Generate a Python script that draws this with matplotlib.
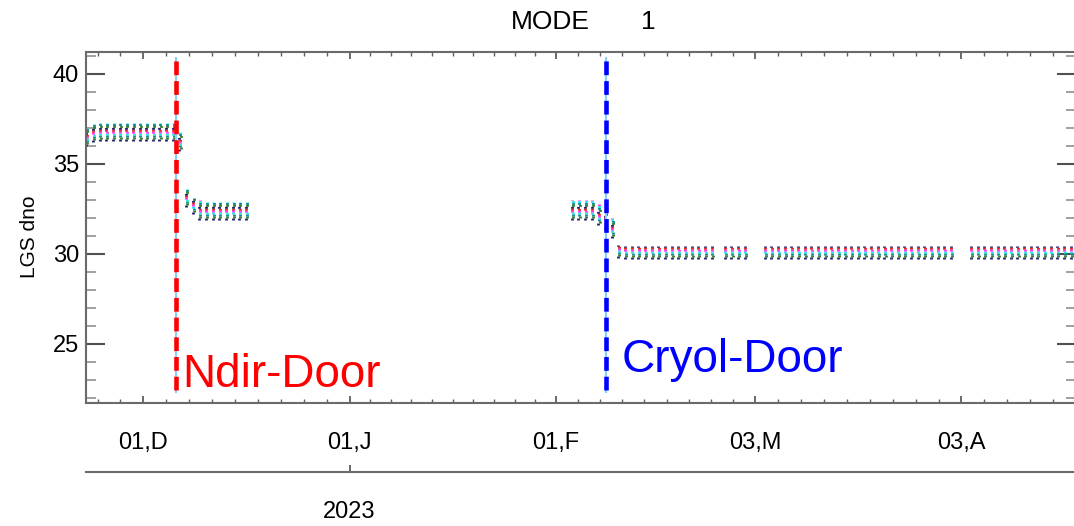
import numpy as np
import matplotlib
matplotlib.use('Agg')
import matplotlib.pyplot as plt
import matplotlib.dates as mdates

plt.rcParams['font.family'] = ['Liberation Sans', 'DejaVu Sans']

ONE_DAY = np.timedelta64(24, 'h')

# daily LGS dno columns: top and bottom of each day's spread
days_a = np.arange(np.datetime64('2022-11-22T12'), np.datetime64('2022-12-06T13'), ONE_DAY)
hi_a = [37.0, 37.2, 37.3, 37.3, 37.3, 37.3, 37.3, 37.3, 37.3, 37.3, 37.3, 37.3, 37.3, 37.3, 36.8]
lo_a = [36.0, 36.2, 36.3, 36.3, 36.3, 36.3, 36.3, 36.3, 36.3, 36.3, 36.3, 36.3, 36.3, 36.3, 35.7]

days_b = np.arange(np.datetime64('2022-12-07T12'), np.datetime64('2022-12-16T13'), ONE_DAY)
hi_b = [33.6, 33.1, 33.0, 32.9, 32.9, 32.9, 32.9, 32.9, 32.9, 32.9]
lo_b = [32.6, 32.2, 31.9, 31.9, 31.9, 31.9, 31.9, 31.9, 31.9, 31.9]

days_c = np.arange(np.datetime64('2023-02-03T12'), np.datetime64('2023-02-09T13'), ONE_DAY)
hi_c = [33.0, 33.0, 33.0, 33.0, 32.8, 32.6, 32.0]
lo_c = [31.9, 31.9, 31.9, 31.9, 31.6, 31.4, 30.9]

days_d = np.concatenate([
    np.arange(np.datetime64('2023-02-10T12'), np.datetime64('2023-02-24T13'), ONE_DAY),
    np.arange(np.datetime64('2023-02-26T12'), np.datetime64('2023-03-01T13'), ONE_DAY),
    np.arange(np.datetime64('2023-03-04T12'), np.datetime64('2023-04-01T13'), ONE_DAY),
    np.arange(np.datetime64('2023-04-04T12'), np.datetime64('2023-04-19T13'), ONE_DAY),
])
hi_d = [30.5] + [30.45] * 63
lo_d = [29.8] + [29.7] * 63

series_colors = ['#1c1c70', '#e8201a', '#ff30ff', '#20e8e8', '#0a8a8a', '#3a7a2a']
series_shift = [-0.08, -0.05, -0.02, 0.02, 0.05, 0.08]

door_dates = [np.datetime64('2022-12-05T22'), np.datetime64('2023-02-08T13')]
door_names = ['Ndir-Door', 'Cryol-Door']
door_colors = ['#ff0000', '#0000ff']

tick_dates = np.array(['2022-12-01', '2023-01-01', '2023-02-01', '2023-03-03', '2023-04-03'],
                      dtype='datetime64[D]')
tick_labels = ['01,D', '01,J', '01,F', '03,M', '03,A']

fig = plt.figure(figsize=(10.74, 5.26), dpi=100)
ax = fig.add_axes([86 / 1074, 1 - 403 / 526, 990 / 1074, 351 / 526])

d0 = mdates.date2num(np.datetime64('2022-12-01'))
ax.set_xlim(d0 - 8.63, d0 + 140.2)
ax.set_ylim(21.72, 41.22)


def draw_block(days, hi, lo):
    x = mdates.date2num(days)
    for k, c in enumerate(series_colors):
        ax.vlines(x + series_shift[k], lo, hi, colors=c, linewidth=2.0,
                  linestyles=[(k * 0.7, (0.7, 3.5))], zorder=2)


draw_block(days_a, hi_a, lo_a)
draw_block(days_b, hi_b, lo_b)
draw_block(days_c, hi_c, lo_c)
draw_block(days_d, hi_d, lo_d)

for dd, name, col in zip(door_dates, door_names, door_colors):
    xd = mdates.date2num(dd)
    ax.vlines(xd, 22.28, 40.94, colors='#87cefa', linewidth=1.5, zorder=3)
    ax.vlines(xd, 22.44, 40.94, colors=col, linewidth=3.3,
              linestyles=[(0, (3.0, 1.3))], zorder=4)

ax.text(mdates.date2num(door_dates[0]) + 1.0, 22.6, door_names[0], color=door_colors[0],
        fontsize=33, va='baseline', ha='left', zorder=5)
ax.text(mdates.date2num(door_dates[1]) + 2.4, 23.45, door_names[1], color=door_colors[1],
        fontsize=33, va='baseline', ha='left', zorder=5)

# x ticks: labelled dates plus 9 minor steps between them (10 across Jan)
major_x = mdates.date2num(tick_dates)
minor_x = []
for i in range(len(major_x) - 1):
    n = 10 if i == 1 else 9
    minor_x.extend(np.linspace(major_x[i], major_x[i + 1], n + 1)[1:-1])
step = (major_x[1] - major_x[0]) / 9
minor_x.extend([major_x[0] - step, major_x[0] - 2 * step])
minor_x.extend(major_x[-1] + step * np.arange(1, 6))
ax.set_xticks(major_x)
ax.set_xticklabels(tick_labels)
ax.set_xticks(minor_x, minor=True)

ax.set_yticks([25, 30, 35, 40])
ax.set_yticks(np.arange(22, 42, 1), minor=True)

ax.tick_params(axis='y', which='major', direction='in', length=14, width=1.5, color='#505050',
               left=True, right=True, pad=5, labelsize=17)
ax.tick_params(axis='y', which='minor', direction='in', length=7, width=1.2, color='#909090',
               left=True, right=True)
ax.tick_params(axis='x', which='major', direction='in', length=5, width=1.2, color='#505050',
               top=True, bottom=True, pad=21, labelsize=17)
ax.tick_params(axis='x', which='minor', direction='in', length=3, width=1.0, color='#606060',
               top=True, bottom=True)
for sp in ax.spines.values():
    sp.set_color('#6a6a6a')
    sp.set_linewidth(1.5)

# year axis underneath
sec = ax.secondary_xaxis(-69 / 351)
sec.set_xticks([mdates.date2num(np.datetime64('2023-01-01'))])
sec.set_xticklabels(['2023'])
sec.tick_params(direction='in', length=5, width=1.2, color='#505050', pad=21, labelsize=17)
sec.spines['bottom'].set_color('#6a6a6a')
sec.spines['bottom'].set_linewidth(1.5)

fig.text(30 / 1074, 1 - 237 / 526, 'LGS dno', rotation=90, ha='center', va='center', fontsize=15)
fig.text(550 / 1074, 1 - 22 / 526, 'MODE', ha='center', va='center', fontsize=19)
fig.text(648 / 1074, 1 - 22 / 526, '1', ha='center', va='center', fontsize=19)

fig.savefig('out.png', dpi=100)
